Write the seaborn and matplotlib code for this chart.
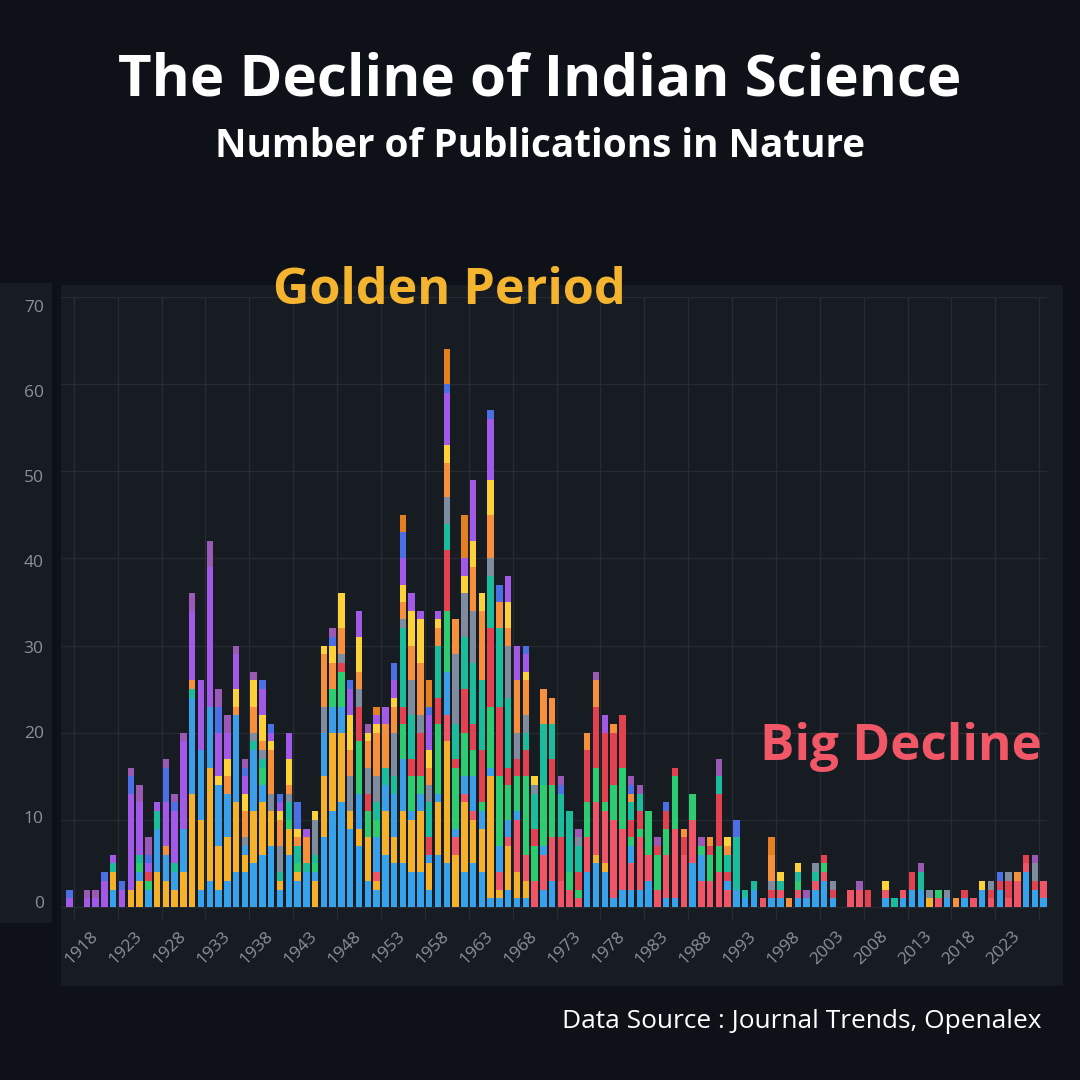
import numpy as np
import pandas as pd
import matplotlib
matplotlib.use("Agg")
import matplotlib.pyplot as plt
from matplotlib.patches import Rectangle
import seaborn as sns

# ---------------- data (publications per year, by stacked group) ----------------
years = list(range(1915, 2027))
label_years = list(range(1918, 2024, 5))
y_ticks = [0, 10, 20, 30, 40, 50, 60, 70]

blue = [0, 0, 0, 0, 0, 2, 0, 0, 0, 2,
        0, 0, 0, 0, 0, 2, 3, 2, 3, 4,
        4, 5, 6, 7, 2, 6, 3, 4, 0, 8,
        11, 12, 9, 7, 3, 2, 6, 5, 5, 4,
        4, 2, 6, 5, 0, 4, 5, 4, 1, 1,
        2, 1, 1, 0, 2, 3, 0, 0, 0, 4,
        5, 4, 1, 2, 2, 2, 3, 0, 1, 1,
        0, 5, 0, 0, 0, 0, 1, 1, 2, 0,
        1, 1, 0, 1, 1, 2, 3, 1, 0, 0,
        0, 0, 0, 1, 0, 1, 2, 2, 0, 0,
        1, 0, 1, 0, 2, 0, 2, 0, 0, 4,
        2, 1]
amber = [0, 0, 0, 0, 0, 2, 0, 2, 3, 0,
         4, 3, 2, 4, 13, 8, 13, 5, 5, 8,
         2, 6, 6, 4, 1, 3, 1, 0, 3, 7,
         9, 8, 2, 2, 5, 1, 5, 3, 6, 6,
         7, 3, 6, 14, 6, 8, 5, 5, 14, 1,
         5, 3, 2, 0, 0, 0, 0, 0, 0, 0,
         1, 1, 0, 0, 0, 0, 0, 0, 0, 0,
         0, 0, 0, 0, 0, 0, 0, 0, 0, 0,
         0, 0, 0, 0, 0, 0, 0, 0, 0, 0,
         0, 0, 0, 0, 0, 0, 0, 0, 1, 0,
         0, 0, 0, 0, 0, 0, 0, 0, 0, 0,
         0, 0]
coral = [0, 0, 0, 0, 0, 0, 0, 0, 0, 0,
         0, 0, 0, 0, 0, 0, 0, 0, 0, 0,
         0, 0, 0, 0, 0, 0, 0, 0, 0, 0,
         0, 0, 0, 0, 0, 1, 0, 0, 0, 0,
         0, 0, 0, 3, 2, 1, 1, 0, 0, 2,
         1, 6, 3, 3, 4, 5, 3, 2, 1, 4,
         6, 6, 9, 7, 3, 6, 3, 2, 5, 8,
         6, 5, 3, 3, 4, 2, 0, 0, 0, 1,
         0, 1, 0, 1, 0, 1, 1, 0, 0, 2,
         2, 0, 0, 1, 0, 1, 0, 0, 0, 1,
         0, 0, 0, 1, 0, 1, 0, 1, 3, 1,
         0, 2]
sky = [0, 0, 0, 0, 0, 0, 0, 0, 1, 0,
       5, 3, 2, 5, 11, 8, 7, 7, 5, 10,
       1, 7, 2, 0, 0, 0, 0, 0, 1, 5,
       3, 3, 0, 4, 0, 4, 3, 5, 6, 1,
       2, 1, 1, 5, 1, 2, 4, 2, 1, 3,
       2, 1, 0, 0, 1, 0, 0, 0, 0, 0,
       0, 0, 0, 0, 2, 0, 0, 0, 0, 0,
       0, 0, 3, 0, 0, 1, 1, 0, 0, 0,
       0, 0, 0, 0, 0, 0, 0, 0, 0, 0,
       0, 0, 0, 0, 0, 0, 0, 0, 0, 0,
       0, 0, 0, 0, 0, 0, 0, 0, 0, 0,
       0, 0]
green = [0, 0, 0, 0, 0, 0, 0, 0, 1, 1,
         0, 0, 0, 0, 0, 0, 0, 0, 0, 0,
         0, 0, 2, 0, 0, 1, 1, 0, 1, 0,
         2, 4, 0, 6, 3, 2, 0, 0, 4, 4,
         2, 0, 8, 7, 7, 5, 3, 1, 7, 8,
         4, 4, 9, 4, 7, 6, 0, 2, 1, 4,
         4, 1, 4, 7, 1, 1, 5, 4, 3, 6,
         0, 3, 1, 3, 3, 0, 0, 0, 0, 0,
         0, 0, 0, 1, 0, 0, 1, 0, 0, 0,
         0, 0, 0, 0, 0, 0, 0, 0, 0, 1,
         0, 0, 0, 0, 0, 0, 0, 0, 0, 0,
         0, 0]
red = [0, 0, 0, 0, 0, 0, 0, 0, 0, 1,
       0, 0, 0, 0, 0, 0, 0, 0, 0, 0,
       0, 0, 0, 0, 0, 0, 0, 0, 0, 0,
       0, 1, 0, 4, 2, 0, 0, 0, 2, 2,
       5, 2, 3, 7, 1, 5, 3, 6, 9, 8,
       2, 2, 3, 2, 0, 3, 5, 0, 2, 6,
       7, 8, 6, 6, 2, 2, 0, 1, 2, 1,
       2, 0, 0, 1, 6, 1, 0, 0, 0, 0,
       1, 0, 0, 0, 0, 0, 1, 1, 0, 0,
       0, 2, 0, 0, 0, 0, 2, 0, 0, 0,
       0, 0, 1, 0, 0, 1, 1, 2, 0, 1,
       1, 0]
teal = [0, 0, 0, 0, 0, 1, 0, 0, 1, 0,
        2, 0, 1, 0, 1, 0, 0, 0, 0, 0,
        0, 1, 1, 0, 1, 2, 2, 1, 1, 0,
        0, 0, 0, 0, 0, 2, 2, 2, 9, 5,
        0, 4, 6, 3, 4, 6, 7, 8, 6, 9,
        8, 0, 2, 4, 7, 4, 5, 7, 3, 0,
        0, 0, 0, 0, 2, 2, 0, 0, 0, 0,
        0, 0, 0, 0, 2, 2, 6, 1, 1, 0,
        0, 1, 0, 1, 0, 1, 0, 0, 0, 0,
        0, 0, 0, 0, 1, 0, 0, 2, 0, 0,
        0, 0, 0, 0, 0, 0, 0, 0, 0, 0,
        0, 0]
gray = [0, 0, 0, 0, 0, 0, 0, 0, 0, 0,
        0, 0, 0, 0, 0, 0, 0, 0, 0, 0,
        1, 1, 1, 2, 3, 1, 0, 0, 4, 3,
        0, 1, 4, 2, 3, 3, 0, 5, 1, 4,
        2, 2, 0, 3, 8, 5, 6, 0, 2, 0,
        6, 3, 2, 1, 0, 0, 0, 0, 1, 0,
        0, 0, 0, 0, 0, 0, 0, 0, 0, 0,
        0, 0, 0, 0, 0, 0, 0, 0, 0, 0,
        1, 0, 0, 0, 0, 1, 0, 1, 0, 0,
        0, 0, 0, 0, 0, 0, 0, 0, 1, 0,
        1, 0, 0, 0, 0, 1, 0, 1, 0, 0,
        2, 0]
orange = [0, 0, 0, 0, 0, 0, 0, 0, 0, 0,
          0, 1, 0, 0, 1, 0, 0, 0, 2, 1,
          3, 3, 1, 5, 3, 1, 1, 3, 0, 6,
          3, 3, 3, 2, 3, 5, 5, 3, 2, 4,
          6, 2, 2, 4, 4, 0, 5, 8, 5, 3,
          2, 6, 4, 0, 4, 3, 0, 0, 0, 2,
          3, 0, 1, 0, 1, 0, 0, 0, 0, 0,
          1, 0, 0, 1, 0, 1, 0, 0, 0, 0,
          3, 0, 1, 0, 0, 0, 0, 0, 0, 0,
          0, 0, 0, 0, 0, 0, 0, 0, 0, 0,
          0, 1, 0, 0, 0, 0, 0, 0, 1, 0,
          0, 0]
yellow = [0, 0, 0, 0, 0, 0, 0, 0, 0, 0,
          0, 0, 0, 0, 0, 0, 0, 1, 2, 2,
          2, 3, 3, 1, 1, 3, 1, 0, 1, 1,
          2, 4, 4, 4, 1, 1, 0, 1, 2, 4,
          5, 2, 1, 2, 0, 2, 3, 2, 4, 0,
          3, 0, 1, 1, 0, 0, 0, 0, 0, 0,
          0, 0, 0, 0, 0, 0, 0, 0, 0, 0,
          0, 0, 0, 0, 0, 1, 0, 0, 0, 0,
          0, 1, 0, 1, 0, 0, 0, 0, 0, 0,
          0, 0, 0, 1, 0, 0, 0, 0, 0, 0,
          0, 0, 0, 0, 1, 0, 0, 0, 0, 0,
          0, 0]
purple = [1, 0, 1, 1, 3, 1, 2, 11, 6, 1,
          1, 5, 6, 10, 8, 8, 16, 5, 3, 4,
          2, 0, 3, 1, 1, 3, 0, 1, 0, 0,
          0, 0, 3, 3, 0, 1, 2, 2, 3, 2,
          1, 4, 1, 6, 0, 2, 7, 0, 7, 0,
          3, 4, 2, 0, 0, 0, 0, 0, 0, 0,
          0, 2, 0, 0, 0, 0, 0, 0, 0, 0,
          0, 0, 0, 0, 0, 0, 0, 0, 0, 0,
          0, 0, 0, 0, 0, 0, 0, 0, 0, 0,
          0, 0, 0, 0, 0, 0, 0, 0, 0, 0,
          0, 0, 0, 0, 0, 0, 0, 0, 0, 0,
          0, 0]
royal = [1, 0, 0, 0, 1, 0, 1, 2, 0, 1,
         0, 4, 1, 0, 0, 0, 0, 3, 0, 0,
         1, 0, 1, 1, 1, 0, 3, 0, 0, 0,
         1, 0, 1, 0, 0, 0, 0, 2, 3, 0,
         0, 1, 0, 1, 0, 0, 0, 0, 1, 2,
         0, 0, 1, 0, 0, 0, 1, 0, 0, 0,
         0, 0, 0, 0, 1, 0, 0, 0, 1, 0,
         0, 0, 0, 0, 0, 0, 2, 0, 0, 0,
         0, 0, 0, 0, 0, 0, 0, 0, 0, 0,
         0, 0, 0, 0, 0, 0, 0, 0, 0, 0,
         0, 0, 0, 0, 0, 0, 1, 0, 0, 0,
         0, 0]
darkorange = [0, 0, 0, 0, 0, 0, 0, 0, 0, 0,
              0, 0, 0, 0, 0, 0, 0, 0, 0, 0,
              0, 0, 0, 0, 0, 0, 0, 0, 0, 0,
              0, 0, 0, 0, 0, 1, 0, 0, 2, 0,
              0, 3, 0, 4, 0, 5, 0, 0, 0, 0,
              0, 0, 0, 0, 0, 0, 0, 0, 0, 0,
              0, 0, 0, 0, 0, 0, 0, 0, 0, 0,
              0, 0, 0, 0, 0, 0, 0, 0, 0, 0,
              2, 0, 0, 0, 0, 0, 0, 0, 0, 0,
              0, 0, 0, 0, 0, 0, 0, 0, 0, 0,
              0, 0, 0, 0, 0, 0, 0, 0, 0, 0,
              0, 0]
violet = [0, 0, 1, 1, 0, 0, 0, 1, 2, 2,
          0, 1, 1, 1, 2, 0, 3, 2, 2, 1,
          1, 1, 0, 0, 0, 0, 0, 0, 0, 0,
          1, 0, 0, 0, 1, 0, 0, 0, 0, 0,
          0, 0, 0, 0, 0, 0, 0, 0, 0, 0,
          0, 0, 0, 0, 0, 0, 1, 0, 1, 0,
          1, 0, 0, 0, 1, 1, 0, 1, 0, 0,
          0, 0, 1, 0, 2, 0, 0, 0, 0, 0,
          0, 0, 0, 0, 1, 0, 0, 0, 0, 0,
          1, 0, 0, 0, 0, 0, 0, 1, 0, 0,
          0, 0, 0, 0, 0, 0, 0, 0, 0, 0,
          1, 0]

# stacking order, bottom -> top
series = {
    "blue": blue, "amber": amber, "coral": coral, "sky": sky, "green": green,
    "red": red, "teal": teal, "gray": gray, "orange": orange, "yellow": yellow,
    "purple": purple, "royal": royal, "darkorange": darkorange, "violet": violet,
}
palette = {
    "blue": "#35a2eb", "amber": "#f5b02c", "coral": "#f05467", "sky": "#3a9fe8",
    "green": "#2ecc71", "red": "#e2424f", "teal": "#1abc9c", "gray": "#7f8b9e",
    "orange": "#f6903d", "yellow": "#fdd13a", "purple": "#a259e8",
    "royal": "#4d6fe6", "darkorange": "#e67e22", "violet": "#9b59b6",
}

rows = []
for name, vals in series.items():
    for yr, v in zip(years, vals):
        rows.append({"year": yr, "group": name, "count": v})
df = pd.DataFrame(rows)

# ---------------- style ----------------
BG = "#0e1117"
PANEL = "#171b22"
GRID = "#262b34"
TICK = "#8b9099"

sns.set_theme(style="dark")
plt.rcParams["font.family"] = ["Open Sans", "DejaVu Sans"]

W = H = 1080
fig = plt.figure(figsize=(10.8, 10.8), dpi=100, facecolor=BG)

def fx(px):
    return px / W

def fy(py):
    return 1 - py / H

# background panels (chart card and y-label strip)
fig.patches.append(Rectangle((fx(61), fy(986)), fx(1063 - 61), (986 - 285) / H,
                             transform=fig.transFigure, facecolor=PANEL,
                             edgecolor="none", zorder=-5))
fig.patches.append(Rectangle((0, fy(923)), fx(52), (923 - 283) / H,
                             transform=fig.transFigure, facecolor=PANEL,
                             edgecolor="none", zorder=-5))

ax = fig.add_axes([fx(61), fy(920), fx(1047 - 61), (920 - 297) / H])
ax.set_facecolor("none")

hue_order = list(series.keys())[::-1]
sns.histplot(data=df, x="year", weights="count", hue="group",
             hue_order=hue_order, palette=palette, multiple="stack",
             discrete=True, shrink=0.74, linewidth=0, alpha=1,
             legend=False, ax=ax)

ax.set_xlim(1914.05, 2026.38)
ax.set_ylim(-1.49, 70)
for s in ax.spines.values():
    s.set_visible(False)
ax.set_xlabel("")
ax.set_ylabel("")

ax.set_yticks(y_ticks)
ax.set_yticklabels([])
ax.set_xticks(label_years)
ax.set_xticklabels([str(y) for y in label_years], rotation=45, ha="right",
                   va="center", rotation_mode="anchor", color=TICK,
                   fontsize=12.5)
ax.set_xticks([y - 2.5 for y in label_years] + [label_years[-1] + 2.5], minor=True)
ax.tick_params(axis="x", which="both", length=0, pad=10)
ax.tick_params(axis="y", length=0)
ax.grid(False)
ax.grid(axis="y", which="major", color=GRID, linewidth=1.0)
ax.grid(axis="x", which="minor", color=GRID, linewidth=1.0)
ax.set_axisbelow(True)

# y labels in the separate left strip
ax_y = fig.add_axes([fx(52), fy(902), 0.0005, (902 - 306) / H])
ax_y.set_facecolor("none")
ax_y.set_ylim(0, 70)
ax_y.set_yticks(y_ticks)
ax_y.set_yticklabels([str(v) for v in y_ticks], color=TICK, fontsize=12.5)
ax_y.set_xticks([])
ax_y.tick_params(axis="y", length=0, pad=6)
for s in ax_y.spines.values():
    s.set_visible(False)

# ---------------- texts ----------------
renderer = fig.canvas.get_renderer()

def fit_text(s, x, yb, width_px, ha="center", **kw):
    t = fig.text(fx(x), fy(yb), s, ha=ha, va="baseline", fontsize=30, **kw)
    bb = t.get_window_extent(renderer)
    t.set_fontsize(30 * width_px / bb.width)
    return t

fit_text("The Decline of Indian Science", 540, 95, 844,
         color="white", fontweight="bold")
fit_text("Number of Publications in Nature", 540, 157, 651,
         color="white", fontweight="bold")
fit_text("Golden Period", 449, 304, 354, color="#f4b42f", fontweight="bold")
fit_text("Big Decline", 901, 760, 282, color="#f25767", fontweight="bold")
fit_text("Data Source : Journal Trends, Openalex", 1042, 1028, 479, ha="right",
         color="white")

fig.savefig("out.png", dpi=100, facecolor=BG)
